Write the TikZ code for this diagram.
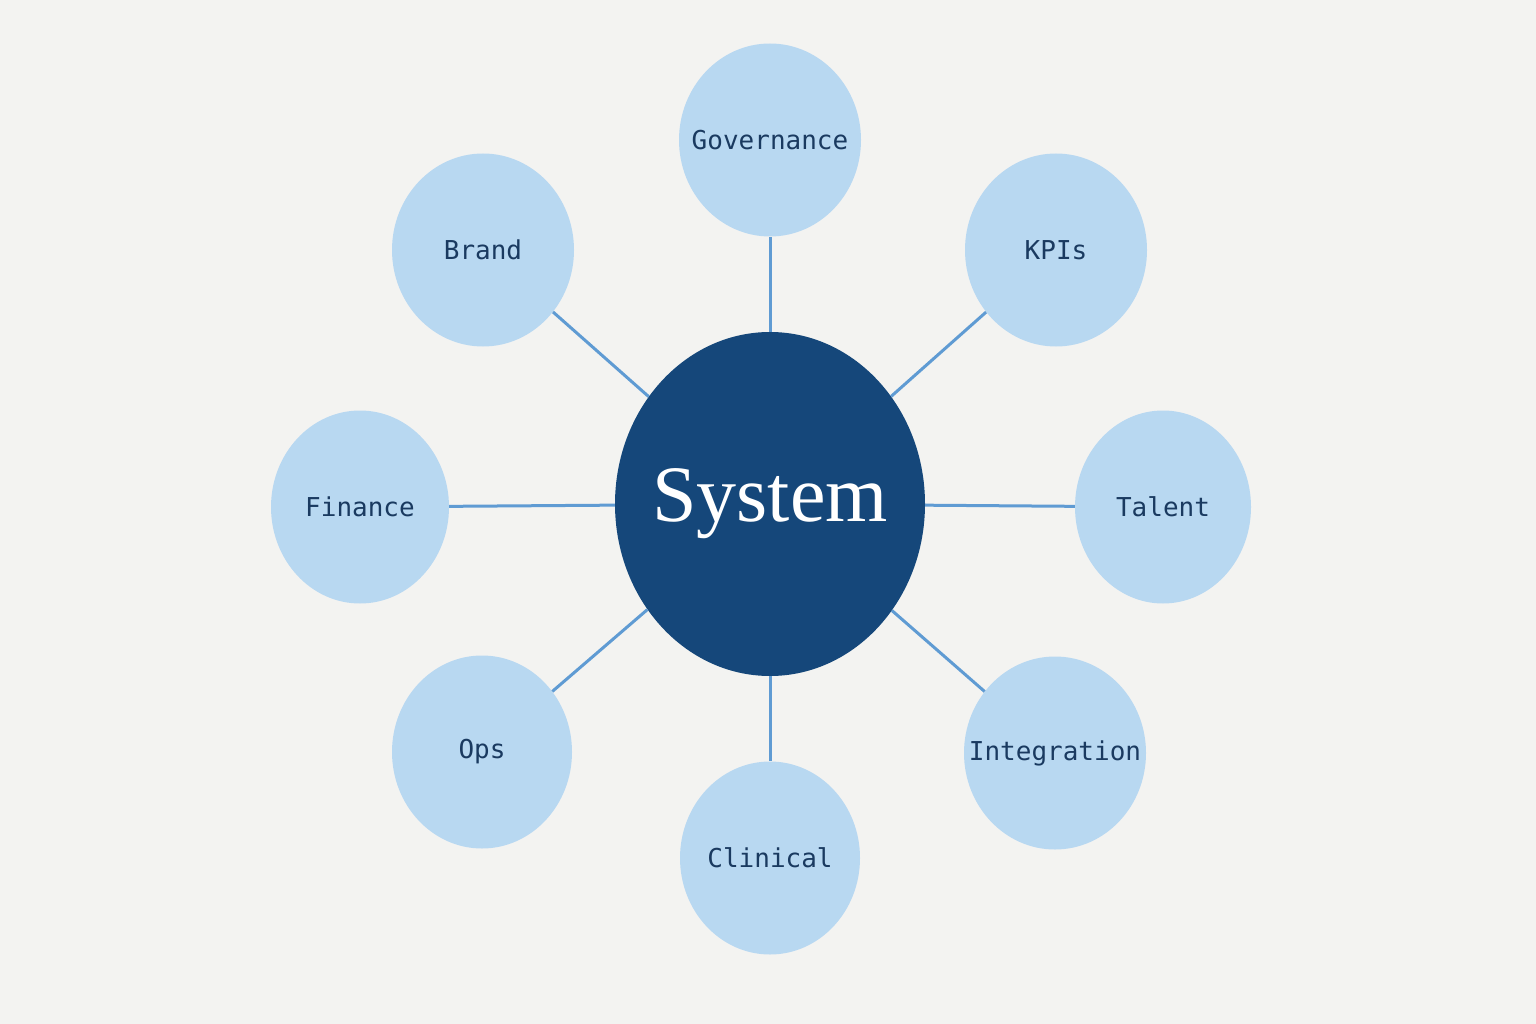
\documentclass[tikz,border=0pt]{standalone}
\usepackage{fontspec}
\setmainfont{Liberation Serif}
\setmonofont{DejaVu Sans Mono}
\usetikzlibrary{shapes.geometric}
\definecolor{PaperBg}{HTML}{F3F3F1}
\definecolor{HubFill}{HTML}{15477A}
\definecolor{LeafFill}{HTML}{B8D8F1}
\definecolor{LeafText}{HTML}{1A3A60}
\definecolor{LinkLine}{HTML}{5F9BD3}
\begin{document}
\begin{tikzpicture}[x=1pt,y=-1pt]
  \tikzset{HubStyle/.style = {
    shape         = ellipse,
    fill          = HubFill,
    text          = white,
    inner xsep    = -45pt,
    inner ysep    = 0pt,
    minimum width = 310pt,
    minimum height= 344pt,
    font          = \fontsize{80}{80}\selectfont
    }
  }
  \tikzset{LeafStyle/.style = {
    shape         = ellipse,
    fill          = LeafFill,
    text          = LeafText,
    inner xsep    = -40pt,
    inner ysep    = 0pt,
    minimum width = 182pt,
    minimum height= 193pt,
    font          = \ttfamily\fontsize{26}{26}\selectfont
    }
  }
  \tikzset{LinkStyle/.style = {
    draw          = LinkLine,
    line width    = 3pt
    }
  }
  \fill[PaperBg] (0,0) rectangle (1536,1024);
  \useasboundingbox (0,0) rectangle (1536,1024);

	\node[HubStyle](S) at (770, 504) {System};
	\node[LeafStyle](G) at (770, 140) {Governance};
	\node[LeafStyle](B) at (483, 250) {Brand};
	\node[LeafStyle](K) at (1056, 250) {KPIs};
	\node[LeafStyle,minimum width=178pt](F) at (360, 507) {Finance};
	\node[LeafStyle,minimum width=176pt](T) at (1163, 507) {Talent};
	\node[LeafStyle,minimum width=180pt](O) at (482, 752) {Ops};
	\node[LeafStyle](I) at (1055, 753) {Integration};
	\node[LeafStyle,minimum width=180pt](C) at (770, 858) {Clinical};
	\foreach \leaf in {G,B,K,F,T,O,I,C}
	  \draw[LinkStyle](S) -- (\leaf);
\end{tikzpicture}
\end{document}
